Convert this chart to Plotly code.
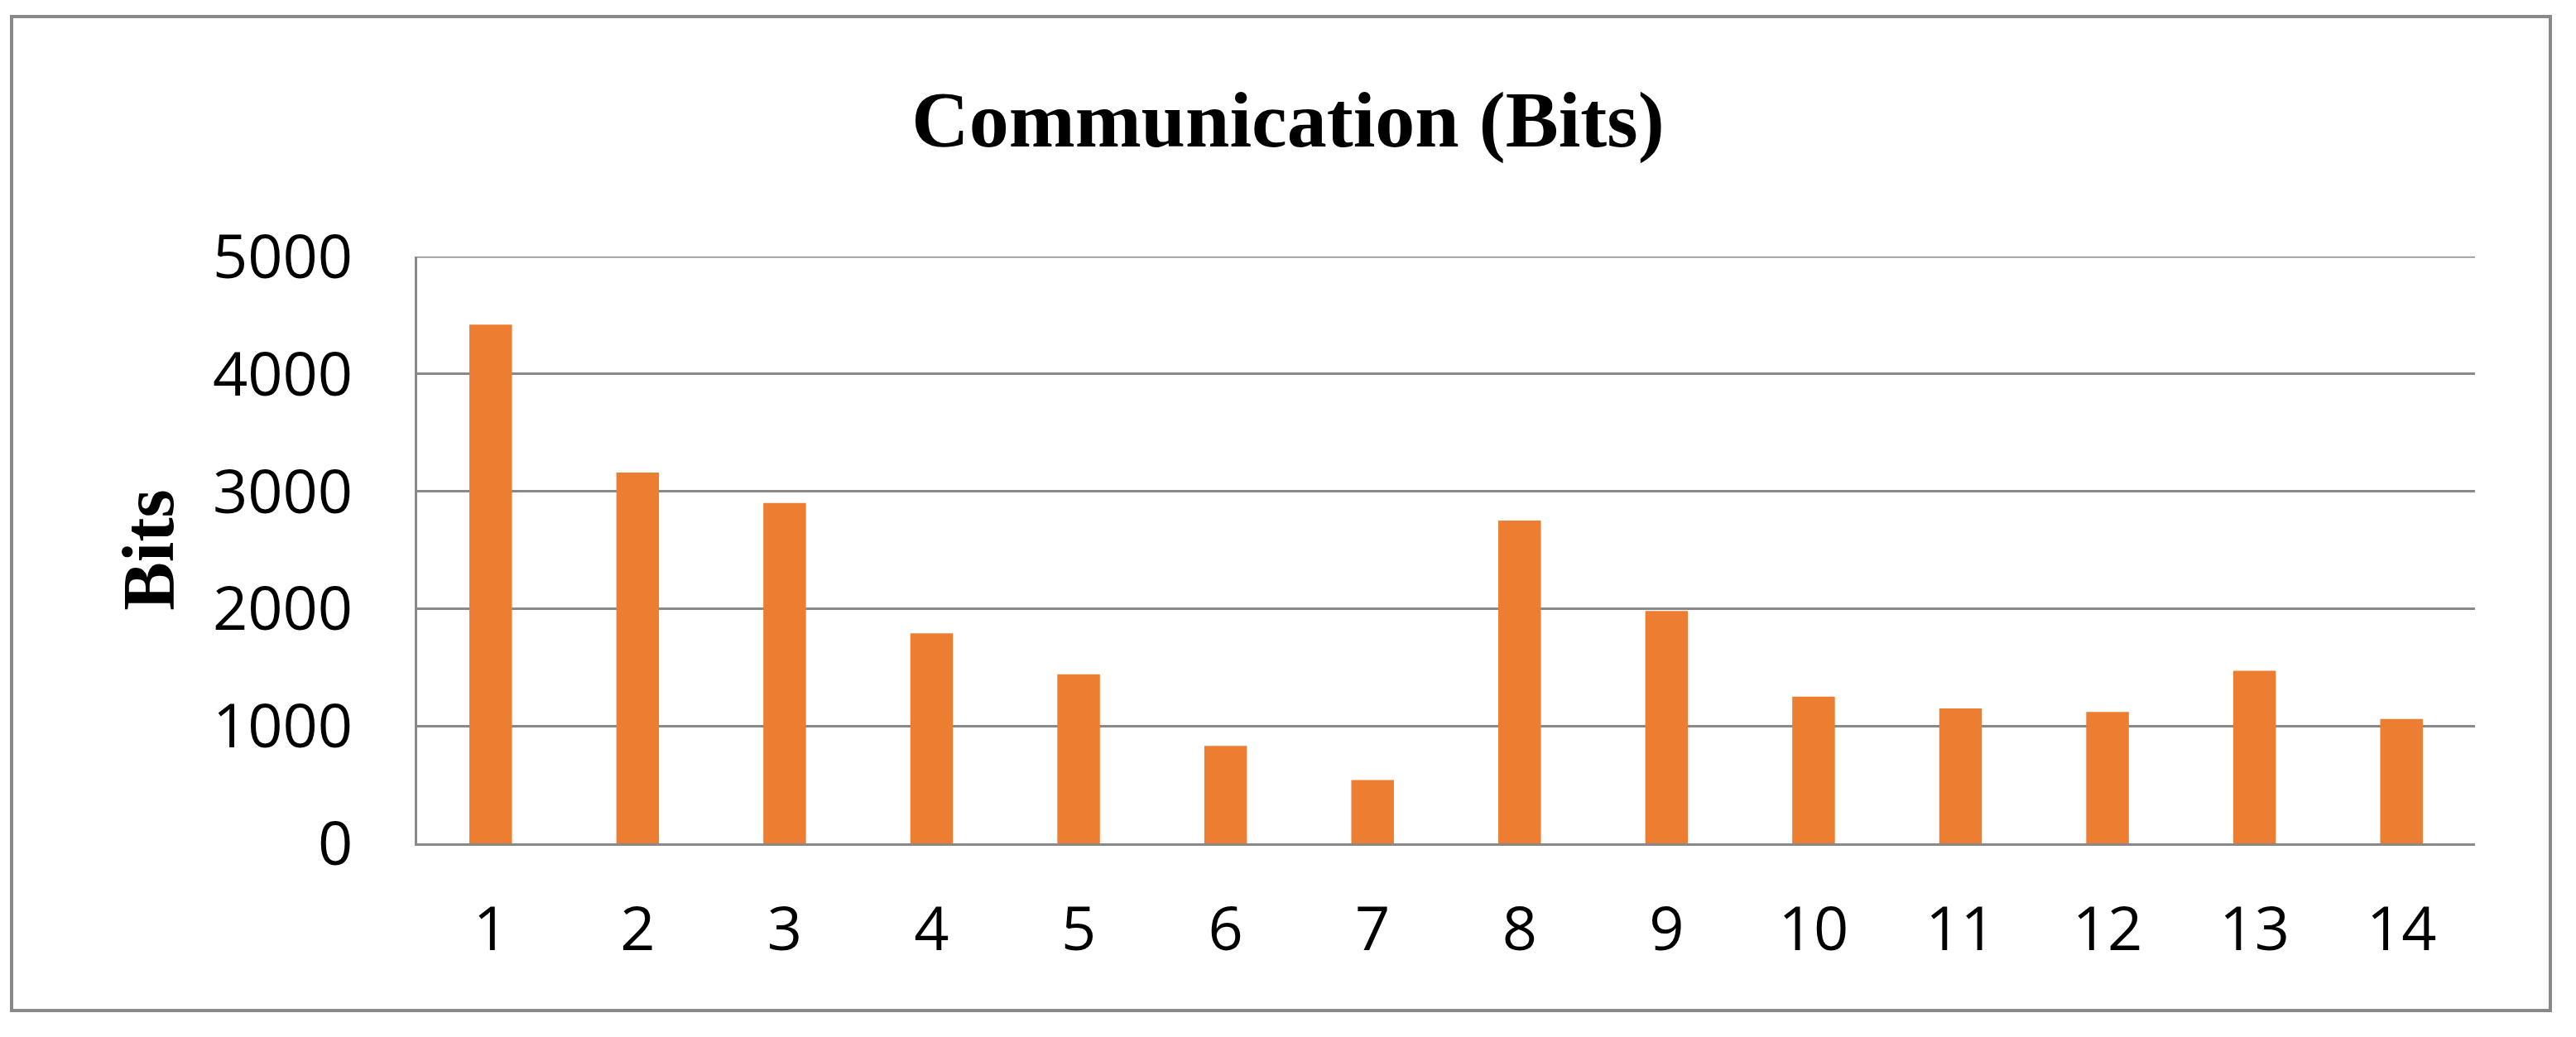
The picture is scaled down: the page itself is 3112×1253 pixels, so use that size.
import plotly.graph_objects as go

categories = ["1", "2", "3", "4", "5", "6", "7", "8", "9", "10", "11", "12", "13", "14"]
bits = [4420, 3160, 2900, 1790, 1440, 830, 540, 2750, 1980, 1250, 1150, 1120, 1470, 1060]
y_ticks = [0, 1000, 2000, 3000, 4000, 5000]

W, H = 3112, 1253
L, R, T, B = 504, 2990, 310, 1019
GRAY = "#898989"

fig = go.Figure(go.Bar(x=categories, y=bits, marker=dict(color="#ED7D31", line=dict(width=0)),
                       width=0.29))

pw, ph = R - L, B - T
def px_x(p):
    return (p - L) / pw
def px_y(p):
    return (B - p) / ph

fig.add_shape(type="rect", xref="paper", yref="paper",
              x0=px_x(14), x1=px_x(3081), y0=px_y(1221), y1=px_y(20),
              line=dict(color=GRAY, width=4), fillcolor="rgba(0,0,0,0)", layer="below")
# top gridline at the range maximum
fig.add_shape(type="line", xref="paper", yref="y", x0=0, x1=1, y0=y_ticks[-1], y1=y_ticks[-1],
              line=dict(color=GRAY, width=3), layer="below")

fig.update_layout(
    width=W, height=H,
    margin=dict(l=L, r=W - R, t=T, b=H - B),
    paper_bgcolor="white", plot_bgcolor="white",
    showlegend=False,
    title=dict(text="<b>Communication (Bits)</b>", x=0.5, xanchor="center",
               y=1 - 143 / H, yanchor="middle", yref="container",
               font=dict(family="Liberation Serif", size=96, color="black")),
    xaxis=dict(type="category", range=[-0.5, 13.5], showgrid=False,
               showline=True, linecolor=GRAY, linewidth=3,
               tickfont=dict(family="Open Sans", size=74, color="black"),
               ticks="", ticklabelstandoff=37, zeroline=False),
    yaxis=dict(range=[0, 5000], tickvals=y_ticks, showgrid=True, gridcolor=GRAY, gridwidth=3,
               showline=True, linecolor=GRAY, linewidth=3, zeroline=False,
               tickfont=dict(family="Open Sans", size=74, color="black"),
               ticks="", ticklabelstandoff=60,
               title=dict(text="<b>Bits</b>", standoff=19,
                          font=dict(family="Liberation Serif", size=88, color="black"))),
)

fig.write_html("out.html", config={"displayModeBar": False},
               post_script="document.body.style.margin='0';")
